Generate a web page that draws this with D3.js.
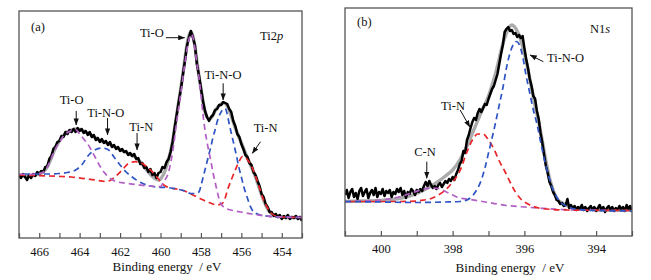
<!DOCTYPE html>
<html><head><meta charset="utf-8">
<script src="https://cdn.jsdelivr.net/npm/d3@7"></script>
<style>
body{margin:0;background:#fff}
svg{display:block}
text{font-family:"Liberation Serif","Times New Roman",serif;fill:#111}
</style>
</head><body>
<svg id="c" width="651" height="280"></svg>
<script>
// ---------------- DATA ----------------
// Panel (a) Ti2p : measured spectrum, binding energy from 467.0 eV down in 0.1 eV steps
const tiStart = 467.0, tiStep = 0.1;
const tiMeasured = [63,60,64,61,58,63,60,64,62,66,64,67,66,71,72,79,82,89,91,96,
97,102,101,106,104,108,106,109,106,110,107,109,105,107,103,106,101,103,98,100,
96,99,95,97,93,96,91,93,89,91,87,89,86,87,83,85,82,84,79,80,
74,75,70,71,66,69,63,65,60,65,66,71,70,76,79,86,96,110,123,136,
148,162,176,191,200,207,201,193,174,163,150,137,127,121,117,121,123,128,129,133,
133,136,135,134,129,126,117,112,104,101,94,89,83,81,75,73,66,63,57,52,
44,41,34,31,26,26,22,24,21,23,19,22,20,23,19,21,20,22,19,21,17];
const tiFit = [[467,62],[466.5,62],[466,64],[465.8,66],[465.6,71],[465.4,80],[465.2,90],[465,97],[464.8,102.5],[464.6,106],[464.4,108],[464.2,109],[464,108.5],[463.8,107],[463.6,105],[463.4,102.5],[463.2,100],[463,97.5],[462.8,96],[462.6,94.5],[462.4,92.5],[462.2,90.5],[462,88.5],[461.8,86.5],[461.6,84.5],[461.4,82.5],[461.2,80],[461,76],[460.8,71],[460.6,66],[460.4,61.5],[460.2,58.5],[460.1,58],[460,59],[459.9,62],[459.8,66],[459.7,72],[459.6,79],[459.5,87],[459.4,97],[459.3,110],[459.2,123],[459.1,136],[459,149],[458.9,163],[458.8,178],[458.7,192],[458.6,202],[458.5,206],[458.4,202],[458.3,192],[458.2,177],[458.1,162],[458,149],[457.9,137],[457.8,127],[457.7,121],[457.6,119],[457.5,120],[457.4,123],[457.3,127],[457.2,130],[457.1,132.5],[457,134],[456.9,135],[456.8,134.5],[456.7,132],[456.6,128],[456.5,122],[456.4,116],[456.3,110],[456.2,105],[456.1,100],[456,95],[455.9,90],[455.8,85],[455.7,80],[455.6,75.5],[455.5,71],[455.4,66],[455.3,61],[455.2,55],[455.1,49],[455,43],[454.9,38],[454.8,33],[454.7,29],[454.6,26],[454.4,23],[454.2,21.5],[454,21],[453.5,20.5],[453,20.5]];
const tiO = [[467,64],[466.5,63.5],[466.2,64],[466,64.5],[465.8,66],[465.6,71],[465.4,80],[465.2,89],[465,96],[464.8,102],[464.6,105.5],[464.4,107.5],[464.2,108.5],[464,104],[463.8,99],[463.6,94],[463.4,87],[463.2,79.5],[463,72],[462.8,66],[462.6,61.5],[462.4,58.5],[462.2,56.5],[461.8,55],[461.2,53.5],[460.6,52],[460,51.5],[459.85,56],[459.6,66],[459.4,86],[459.2,116],[459,144],[458.8,174],[458.6,198],[458.5,204],[458.4,201],[458.3,190],[458.2,174],[458.1,161],[458,144],[457.9,124],[457.8,108],[457.7,96],[457.6,86],[457.5,76],[457.4,65],[457.3,56],[457.2,47],[457.1,39],[457,34],[456.9,31.5],[456.8,30],[456.3,27],[455.9,25.5],[455.5,24],[455.1,22.8],[454.7,21.8],[454.3,21.2],[453.9,21],[453.5,20.7],[453,20.5]];
const tiNO = [[467,64],[466,64],[465.5,64],[465,64.5],[464.6,65.5],[464.2,68],[463.9,73],[463.55,83],[463.2,88.5],[462.9,90],[462.6,88.5],[462.3,81],[462,73],[461.7,66],[461.4,61],[460.9,54.7],[460.5,52],[460.1,50.7],[459.7,50.5],[459.2,49],[458.8,47],[458.5,44.5],[458.3,44.5],[458.1,46],[458,52],[457.9,60],[457.8,68],[457.7,76],[457.6,84],[457.5,92],[457.4,101],[457.3,108],[457.2,116],[457.1,122],[457,126],[456.9,129],[456.8,129.5],[456.7,124],[456.62,116],[456.5,105],[456.38,94.7],[456.25,83],[456.13,71.3],[456,61],[455.88,51.3],[455.7,40],[455.55,31.3],[455.38,25.8],[455.2,24],[454.7,21.8],[454.3,21.2],[453.9,21],[453.5,20.7],[453,20.5]];
const tiN = [[467,63],[466.2,62.5],[465.5,62],[464.9,61.5],[464.4,61],[463.9,59.7],[463.2,58],[462.74,56.5],[462.5,57.5],[462.24,61.3],[461.9,68],[461.58,74.5],[461.25,76.3],[460.92,74.7],[460.59,69.7],[460.26,63],[460,56.3],[459.76,52],[459.5,50],[459.2,49],[458.8,47],[458.4,43],[458,39],[457.6,35.5],[457.2,33],[456.95,34.5],[456.8,40],[456.7,47],[456.5,58],[456.3,68],[456.1,77],[455.95,81.5],[455.8,80.5],[455.65,77],[455.5,72],[455.3,62],[455.1,50],[454.9,38],[454.7,30],[454.5,24.5],[454.3,22],[454,21],[453.5,20.7],[453,20.5]];

// Panel (b) N1s : measured spectrum, from 401.0 eV down in 0.05 eV steps
const nStart = 401.0, nStep = 0.05;
const nMeasured = [41,46,38,44,47,39,43,37,45,48,40,44,47,38,43,46,41,48,39,44,
42,47,40,45,43,46,39,44,42,47,44,48,41,45,38,44,42,47,45,41,
46,44,47,45,50,54,50,55,51,48,50,47,51,53,49,52,55,53,57,55,
59,56,62,66,72,75,85,83,96,101,108,114,118,116,123,127,124,128,132,131,
137,142,147,150,156,162,172,182,191,204,207,209,205,206,202,203,199,201,198,200,
188,177,168,157,150,140,137,125,117,103,93,81,70,63,54,50,44,41,36,35,
32,33,30,31,37,28,31,27,30,26,29,27,31,26,29,25,28,30,26,29,
25,28,31,26,29,24,28,30,26,29,25,28,26,30,27,29,25,31,27,30,24];
const nFit = [[401,34.5],[400.5,35],[400,35.5],[399.5,37.5],[399.2,40],[399,42.5],[398.8,46],[398.6,50],[398.4,54.5],[398.2,60],[398,66],[397.8,76],[397.6,90],[397.4,107],[397.2,124],[397,140],[396.8,163],[396.6,192],[396.45,207],[396.35,211],[396.25,208],[396.15,201],[396,183],[395.9,167],[395.8,148],[395.7,130],[395.6,114],[395.5,95],[395.4,75],[395.3,58],[395.2,46],[395.1,38],[394.9,32],[394.7,29],[394.4,27.5],[394,26.5],[393.5,26],[393,26]];
const nTiNO = [[401,34.5],[400,34],[399,33.5],[398.2,34],[397.8,34.5],[397.6,36],[397.45,40],[397.33,46],[397.2,56],[397.1,68],[397,83],[396.9,98],[396.8,114],[396.7,131],[396.6,148],[396.5,168],[396.4,183],[396.3,192],[396.22,194.5],[396.15,192],[396.05,180],[395.95,160],[395.85,143],[395.75,126],[395.65,112],[395.5,86],[395.4,70],[395.3,57],[395.2,46],[395.1,39],[395,34],[394.8,29.5],[394.5,26.5],[394,25.5],[393,25]];
const nTiN = [[401,34.5],[399.5,34.5],[399,35],[398.8,36],[398.6,37.5],[398.4,41],[398.2,46],[398,54],[397.8,65],[397.6,84],[397.45,96],[397.3,102],[397.15,102],[397,96],[396.85,87],[396.7,75],[396.55,65],[396.4,54],[396.25,44],[396.1,37],[395.9,32],[395.6,28],[395.2,26.5],[394.8,26],[393,25.5]];
const nCN = [[401,34.5],[400.5,35],[400,36],[399.7,37.5],[399.4,40],[399.1,43.5],[398.85,46.5],[398.6,48],[398.4,47.5],[398.2,44.5],[398,41],[397.8,38],[397.5,36.5],[397,33.5],[396.5,30.5],[396,29],[395.5,27.7],[395,26.5],[394,25.8],[393,25.3]];

// tick labels
const tiMajorTicks = [466,464,462,460,458,456,454];
const tiMinorTicks = [467,465,463,461,459,457,455,453];
const nMajorTicks = [400,398,396,394];
const nMinorTicks = [401,399,397,395,393];

// annotations: [text, labelBE, labelI, anchor, arrowFromBE, arrowFromI, arrowToBE, arrowToI]
const tiNotes = [
  ["Ti-O",   460.43,205,"middle", 459.73,200.3, 458.80,200.3],
  ["Ti-N-O", 456.91,163,"middle", 456.90,154.7, 456.90,138],
  ["Ti-N",   454.80,110,"middle", 455.05,96.3, 455.46,84.7],
  ["Ti-O",   464.40,138,"middle", 464.17,127, 464.17,113],
  ["Ti-N-O", 462.71,125,"middle", 462.62,120, 462.62,103],
  ["Ti-N",   460.95,111,"middle", 461.16,105, 461.16,88]
];
const nNotes = [
  ["Ti-N-O", 395.37,178,"start", 395.47,174.3, 395.84,181],
  ["Ti-N",   397.99,130,"middle", 397.79,126, 397.52,109],
  ["C-N",    398.77,84,"middle", 398.72,74.3, 398.72,57.7]
];

// ---------------- DRAW ----------------
const svg = d3.select("#c");
const COLORS = {ti_o:"#b25fc4", ti_no:"#2f55c4", ti_n:"#e8262a", fit:"#ababab"};

svg.append("defs").append("marker")
  .attr("id","ah").attr("viewBox","0 0 8 6").attr("refX",7.5).attr("refY",3)
  .attr("markerWidth",7).attr("markerHeight",5.5).attr("markerUnits","userSpaceOnUse")
  .attr("orient","auto")
  .append("path").attr("d","M0,0L8,3L0,6Z").attr("fill","#111");

function panel(cfg){
  const x = d3.scaleLinear().domain(cfg.xd).range([cfg.x0,cfg.x1]);
  const y = d3.scaleLinear().domain(cfg.yd).range([cfg.y1,cfg.y0]);
  const g = svg.append("g");
  const clip = "clip"+cfg.id;
  svg.select("defs").append("clipPath").attr("id",clip).append("rect")
    .attr("x",cfg.x0).attr("y",cfg.y0).attr("width",cfg.x1-cfg.x0).attr("height",cfg.y1-cfg.y0);
  const plot = g.append("g").attr("clip-path",`url(#${clip})`);
  const smooth = d3.line().x(d=>x(d[0])).y(d=>y(d[1])).curve(d3.curveMonotoneX);
  const raw = d3.line().x(d=>x(d[0])).y(d=>y(d[1]));
  const meas = cfg.meas.map((v,i)=>[cfg.start - i*cfg.step, v]);

  plot.append("path").attr("d",smooth(cfg.fit)).attr("fill","none")
    .attr("stroke",COLORS.fit).attr("stroke-width",3.4);
  plot.append("path").attr("d",raw(meas)).attr("fill","none")
    .attr("stroke","#000").attr("stroke-width",2.5).attr("stroke-linejoin","round");
  cfg.comps.forEach((c,k)=>{
    plot.append("path").attr("d",smooth(c.pts)).attr("fill","none")
      .attr("stroke",c.color).attr("stroke-width",1.7)
      .attr("stroke-dasharray","6,4").attr("stroke-dashoffset",k*5);
  });

  // frame
  g.append("rect").attr("x",cfg.x0).attr("y",cfg.y0)
    .attr("width",cfg.x1-cfg.x0).attr("height",cfg.y1-cfg.y0)
    .attr("fill","none").attr("stroke","#555").attr("stroke-width",1.3);

  // axes
  const ax = g.append("g").attr("transform",`translate(0,${cfg.y1})`)
    .call(d3.axisBottom(x).tickValues(cfg.major).tickSize(-5).tickPadding(cfg.pad).tickFormat(d3.format("d")));
  ax.select(".domain").remove();
  ax.selectAll("line").attr("stroke","#555").attr("stroke-width",1.2);
  ax.selectAll("text").attr("font-size",12.5).attr("font-family",'"Liberation Serif",serif').attr("fill","#111");
  const axm = g.append("g").attr("transform",`translate(0,${cfg.y1})`)
    .call(d3.axisBottom(x).tickValues(cfg.minor).tickSize(-5).tickFormat(""));
  axm.select(".domain").remove();
  axm.selectAll("line").attr("stroke","#555").attr("stroke-width",1.2);

  g.append("text").attr("x",cfg.titleX).attr("y",cfg.titleY).attr("text-anchor","middle")
    .attr("font-size",13).text("Binding energy  / eV").attr("xml:space","preserve");

  g.append("text").attr("x",cfg.tagX).attr("y",cfg.tagY).attr("font-size",12.5).text(cfg.tag);
  const el = g.append("text").attr("x",cfg.elX).attr("y",cfg.elY).attr("font-size",12.5);
  el.append("tspan").text(cfg.el[0]);
  el.append("tspan").attr("font-style","italic").text(cfg.el[1]);

  cfg.notes.forEach(n=>{
    g.append("text").attr("x",x(n[1])).attr("y",y(n[2])).attr("dy","0.35em")
      .attr("text-anchor",n[3]).attr("font-size",12.5).text(n[0]);
    g.append("line").attr("x1",x(n[4])).attr("y1",y(n[5])).attr("x2",x(n[6])).attr("y2",y(n[7]))
      .attr("stroke","#111").attr("stroke-width",1).attr("marker-end","url(#ah)");
  });
}

panel({id:"a", xd:[467,453], yd:[0,227], x0:19, x1:302, y0:11, y1:238, pad:9,
  start:tiStart, step:tiStep, meas:tiMeasured, fit:tiFit,
  comps:[{pts:tiN,color:COLORS.ti_n},{pts:tiNO,color:COLORS.ti_no},{pts:tiO,color:COLORS.ti_o}],
  major:tiMajorTicks, minor:tiMinorTicks, titleX:167, titleY:271,
  tag:"(a)", tagX:31, tagY:31, el:["Ti2","p"], elX:260, elY:40, notes:tiNotes});

panel({id:"b", xd:[401,393], yd:[0,228], x0:345, x1:632, y0:8, y1:236, pad:8,
  start:nStart, step:nStep, meas:nMeasured, fit:nFit,
  comps:[{pts:nCN,color:COLORS.ti_o},{pts:nTiN,color:COLORS.ti_n},{pts:nTiNO,color:COLORS.ti_no}],
  major:nMajorTicks, minor:nMinorTicks, titleX:510, titleY:272,
  tag:"(b)", tagX:357, tagY:26, el:["N1","s"], elX:590, elY:33, notes:nNotes});
</script>
</body></html>
